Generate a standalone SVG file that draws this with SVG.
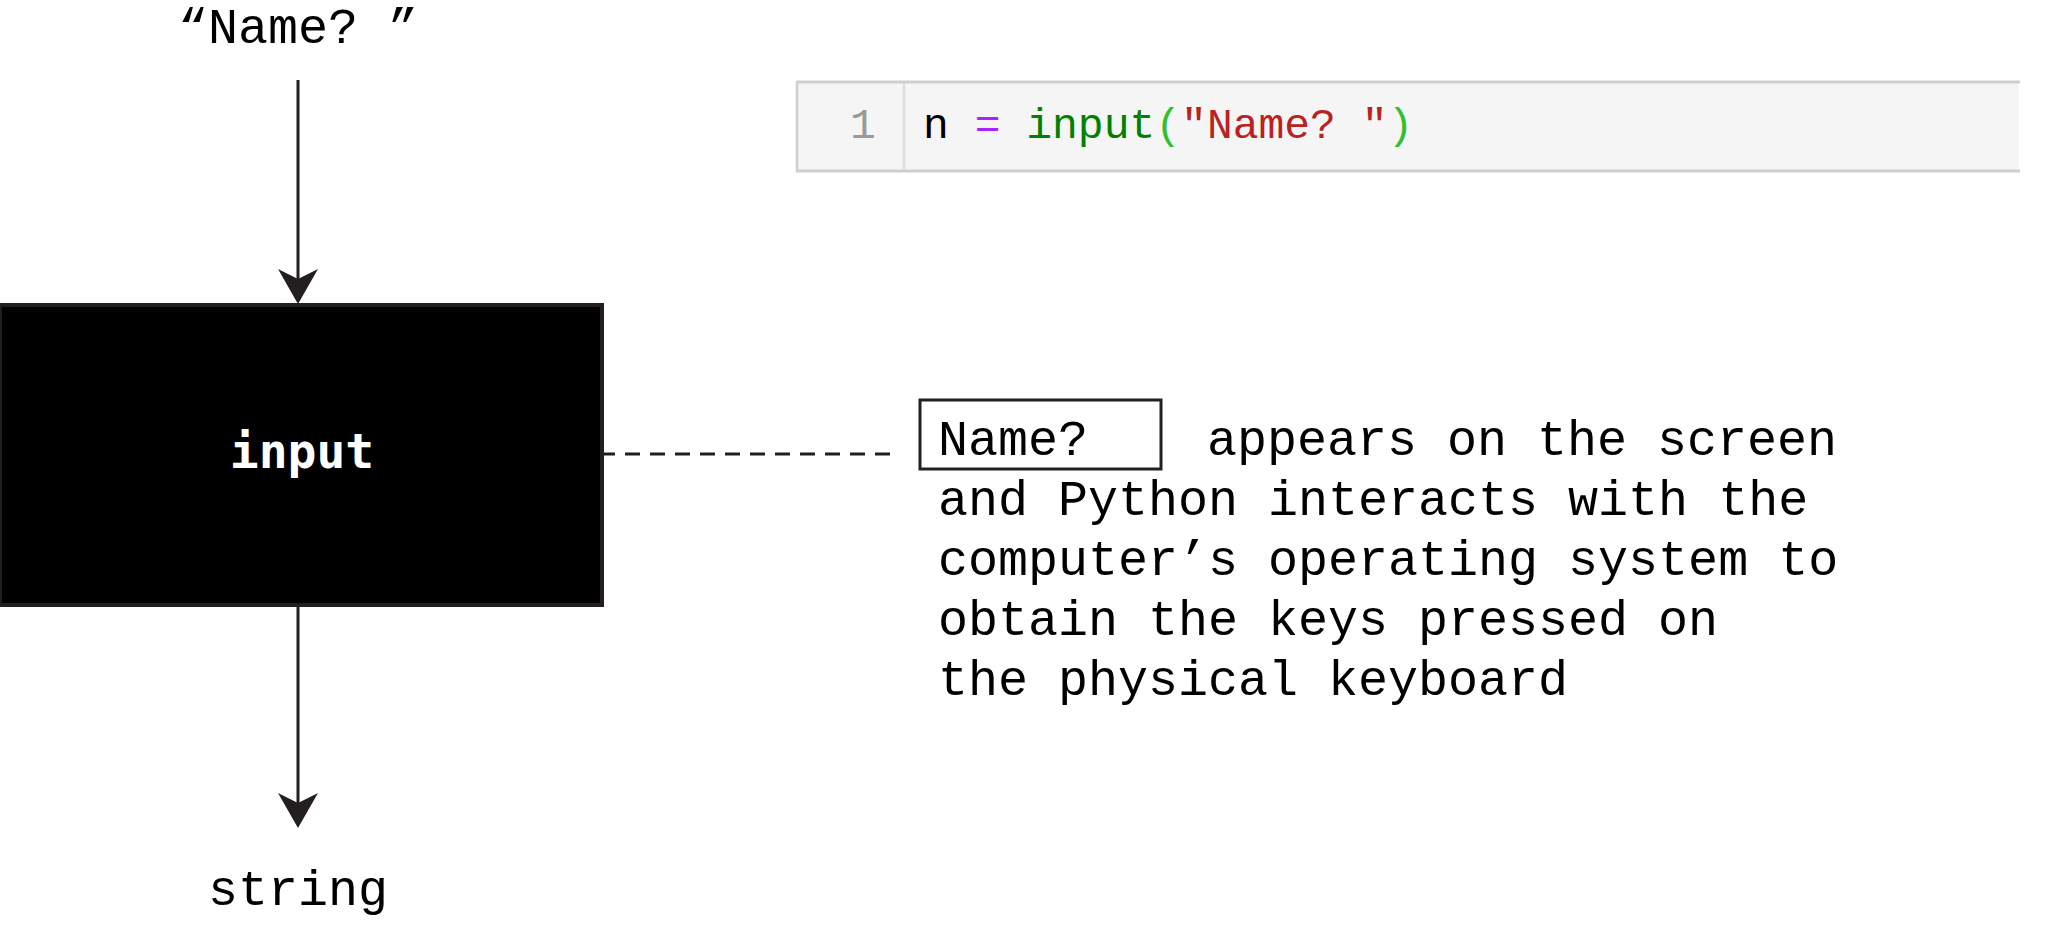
<svg xmlns="http://www.w3.org/2000/svg" width="2061" height="930" viewBox="0 0 2061 930">
  <style>
    .mono { font-family: "Liberation Mono", "DejaVu Sans Mono", monospace; fill: #000; }
    .lbl { font-size: 50px; }
    .conn { stroke: #231f20; stroke-width: 3; fill: none; }
    .code { font-family: "Liberation Mono", "Courier New", monospace; font-size: 43px; }
  </style>
  <defs>
    <marker id="arrow" markerUnits="userSpaceOnUse" viewBox="0 0 35 40" markerWidth="35" markerHeight="40" refX="10" refY="20" orient="auto">
      <path d="M0,0 L35,20 L0,40 L10,20 Z" fill="#231f20"/>
    </marker>
  </defs>
  <rect width="2061" height="930" fill="#fff"/>

  <g id="connectors">
    <line class="conn" x1="298" y1="80" x2="298" y2="279" marker-end="url(#arrow)"/>
    <line class="conn" x1="298" y1="606" x2="298" y2="803" marker-end="url(#arrow)"/>
    <line class="conn" x1="600" y1="454" x2="898" y2="454" stroke-width="4" stroke-dasharray="15 10"/>
  </g>

  <g id="label-top">
    <text class="mono lbl" x="298" y="43" text-anchor="middle">“Name? ”</text>
  </g>

  <g id="input-node">
    <rect x="0" y="305" width="602" height="300" fill="#000" stroke="#231f20" stroke-width="4"/>
    <text x="302" y="468" text-anchor="middle" font-family="'DejaVu Sans Mono', 'Liberation Mono', monospace" font-weight="bold" font-size="48" fill="#fff">input</text>
  </g>

  <g id="label-bottom">
    <text class="mono lbl" x="298" y="905" text-anchor="middle">string</text>
  </g>

  <g id="code-cell">
    <rect x="797" y="82" width="1222" height="89" fill="#f5f5f5"/>
    <line x1="796" y1="82" x2="2020" y2="82" stroke="#cfcfcf" stroke-width="3"/>
    <line x1="796" y1="171" x2="2020" y2="171" stroke="#cfcfcf" stroke-width="3"/>
    <line x1="797" y1="81" x2="797" y2="172" stroke="#cfcfcf" stroke-width="2.5"/>
    <line x1="904" y1="83" x2="904" y2="170" stroke="#dddddd" stroke-width="2.5"/>
    <text class="code" x="863" y="138" text-anchor="middle" fill="#999999">1</text>
    <text class="code" x="923" y="138" xml:space="preserve"><tspan fill="#000000">n</tspan> <tspan fill="#aa22ff">=</tspan> <tspan fill="#008000">input</tspan><tspan fill="#2fbf2f">(</tspan><tspan fill="#ba2121">"Name? "</tspan><tspan fill="#2fbf2f">)</tspan></text>
  </g>

  <g id="description">
    <rect x="920" y="400" width="241" height="69" fill="none" stroke="#231f20" stroke-width="3"/>
    <text class="mono lbl" x="938" y="455">Name?</text>
    <text class="mono lbl" x="1207" y="455">appears on the screen</text>
    <text class="mono lbl" x="938" y="515">and Python interacts with the</text>
    <text class="mono lbl" x="938" y="575">computer’s operating system to</text>
    <text class="mono lbl" x="938" y="635">obtain the keys pressed on</text>
    <text class="mono lbl" x="938" y="695">the physical keyboard</text>
  </g>
</svg>
